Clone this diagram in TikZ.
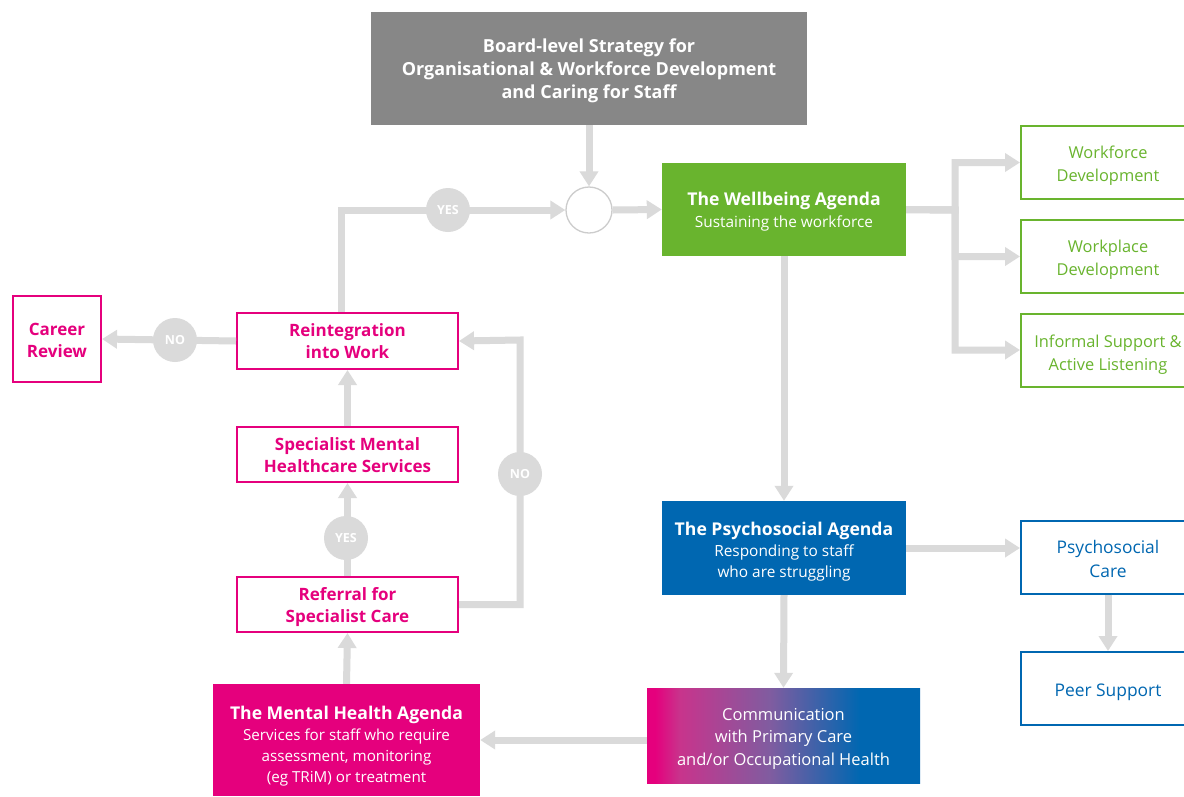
\documentclass[tikz,border=0pt]{standalone}
\usepackage{fontspec}
\setmainfont{Open Sans}
\usetikzlibrary{arrows.meta,calc}
\definecolor{mag}{HTML}{E5007D}
\definecolor{blu}{HTML}{0067B1}
\definecolor{grn}{HTML}{69B42E}
\definecolor{gbx}{HTML}{878787}
\definecolor{lg}{HTML}{DADADA}
\definecolor{gpk}{HTML}{C8348C}
\definecolor{gpu}{HTML}{805CA0}
\pgfdeclarehorizontalshading{mhgrad}{100bp}{color(0bp)=(mag); color(26.5bp)=(mag); color(31bp)=(gpk); color(47.5bp)=(gpu); color(64bp)=(blu); color(100bp)=(blu)}
\tikzset{
  line/.style={draw=lg, line width=7pt},
  conn/.style={line, -{Triangle[length=15pt,width=18pt]}},
  fbox/.style={draw=none, inner sep=0pt},
  obox/.style={draw, line width=2pt, fill=white, inner sep=0pt},
  lbl/.style={align=center, inner sep=0pt},
  dec/.style={circle, fill=lg, draw=none, minimum size=44pt, inner sep=0pt, text=white, font=\bfseries\fontsize{12.5}{14}\selectfont},
}
\begin{document}
\begin{tikzpicture}[x=1pt,y=-1pt]
\useasboundingbox (0,0) rectangle (1184,796);
\clip (0,0) rectangle (1184,796);
\fill[white] (0,0) rectangle (1184,796);

% nodes
\node[fbox, fill=gbx, minimum width=436pt, minimum height=113pt,
  label={[lbl, text=white, yshift=-2.5pt, font=\bfseries\fontsize{18}{23}\selectfont]center:{Board-level Strategy for\\Organisational \& Workforce Development\\and Caring for Staff}}] (board) at (589,68.5) {};
\node[circle, draw=lg!85!gray, line width=1.3pt, fill=white, minimum size=46pt, inner sep=0pt] (merge) at (589,210) {};
\node[fbox, fill=grn, minimum width=244pt, minimum height=93pt,
  label={[lbl, text=white, yshift=-2pt, font=\fontsize{15.4}{22}\selectfont]center:{{\bfseries\fontsize{17.6}{22}\selectfont The Wellbeing Agenda}\\Sustaining the workforce}}] (well) at (784,209.5) {};
\node[obox, draw=grn, minimum width=174pt, minimum height=73pt,
  label={[lbl, text=grn, yshift=-3pt, font=\fontsize{16.4}{23}\selectfont]center:{Workforce\\Development}}] (wf) at (1108,162.5) {};
\node[obox, draw=grn, minimum width=174pt, minimum height=73pt,
  label={[lbl, text=grn, yshift=-3pt, font=\fontsize{16.4}{23}\selectfont]center:{Workplace\\Development}}] (wp) at (1108,256.5) {};
\node[obox, draw=grn, minimum width=174pt, minimum height=73pt,
  label={[lbl, text=grn, yshift=-4.5pt, font=\fontsize{16.4}{23}\selectfont]center:{Informal Support \&\\Active Listening}}] (inf) at (1108,350) {};

\node[fbox, fill=blu, minimum width=244pt, minimum height=94pt,
  label={[lbl, text=white, yshift=-4pt, font=\fontsize{15.4}{21}\selectfont]center:{{\bfseries\fontsize{17.6}{21}\selectfont The Psychosocial Agenda}\\Responding to staff\\who are struggling}}] (psy) at (784,548) {};
\node[obox, draw=blu, minimum width=174pt, minimum height=73pt,
  label={[lbl, text=blu, yshift=-2pt, font=\fontsize{17.4}{24}\selectfont]center:{Psychosocial\\Care}}] (pc) at (1108,557) {};
\node[obox, draw=blu, minimum width=174pt, minimum height=73pt,
  label={[lbl, text=blu, yshift=-4pt, font=\fontsize{17.4}{24}\selectfont]center:{Peer Support}}] (peer) at (1108,688.5) {};

\node[fbox, shade, shading=mhgrad, minimum width=273pt, minimum height=95pt,
  label={[lbl, text=white, yshift=-3pt, font=\fontsize{16.5}{22.5}\selectfont]center:{Communication\\with Primary Care\\and/or Occupational Health}}] (comm) at (783.5,735.5) {};
\node[fbox, fill=mag, minimum width=267pt, minimum height=112pt,
  label={[lbl, text=white, yshift=-6pt, font=\fontsize{15.2}{21}\selectfont]center:{{\bfseries\fontsize{17.6}{21}\selectfont The Mental Health Agenda}\\Services for staff who require\\assessment, monitoring\\(eg TRiM) or treatment}}] (mh) at (346.5,740) {};

\node[obox, draw=mag, minimum width=221pt, minimum height=55pt,
  label={[lbl, text=mag, yshift=-2.5pt, font=\bfseries\fontsize{17}{22}\selectfont]center:{Referral for\\Specialist Care}}] (ref) at (347.5,604.5) {};
\node[obox, draw=mag, minimum width=221pt, minimum height=55pt,
  label={[lbl, text=mag, yshift=-1pt, font=\bfseries\fontsize{17}{22}\selectfont]center:{Specialist Mental\\Healthcare Services}}] (spec) at (347.5,454.5) {};
\node[obox, draw=mag, minimum width=221pt, minimum height=56pt,
  label={[lbl, text=mag, font=\bfseries\fontsize{17}{22}\selectfont]center:{Reintegration\\into Work}}] (reint) at (347.5,341) {};
\node[obox, draw=mag, minimum width=88pt, minimum height=86pt,
  label={[lbl, text=mag, yshift=-1pt, font=\bfseries\fontsize{17}{22}\selectfont]center:{Career\\Review}}] (career) at (57,339) {};

% connectors
\coordinate (bus) at (955,210);
\coordinate (noc) at (520,340);
\draw[conn] (board.south) -- (merge.north);
\draw[conn] (merge.east) -- (well.west);
\draw[conn] (well.east) -- (bus) |- (wf.west);
\draw[conn] (well.east) -- (bus) |- (wp.west);
\draw[conn] (well.east) -- (bus) |- (inf.west);
\draw[conn] (well.south) -- (psy.north);
\draw[conn] (psy.east) -- (psy.east -| pc.west);
\draw[conn] (pc.south) -- (peer.north);
\draw[conn] (psy.south) -- (comm.north);
\draw[conn] (comm.west |- mh.east) -- (mh.east);
\draw[conn] (mh.north) -- (ref.south);
\draw[conn] (ref.north) -- (spec.south);
\draw[conn] (spec.north) -- (reint.south);
\draw[conn] (ref.east) -| (noc) -- (reint.east);
\draw[conn] ([xshift=-6pt]reint.north) |- (merge.west);
\draw[conn] (reint.west) -- (career.east);

% decision labels
\node[dec] (yes1) at (448,210) {YES};
\node[dec] (no1) at (175,340) {NO};
\node[dec] (no2) at (520,474) {NO};
\node[dec] (yes2) at (346,538) {YES};
\end{tikzpicture}
\end{document}
